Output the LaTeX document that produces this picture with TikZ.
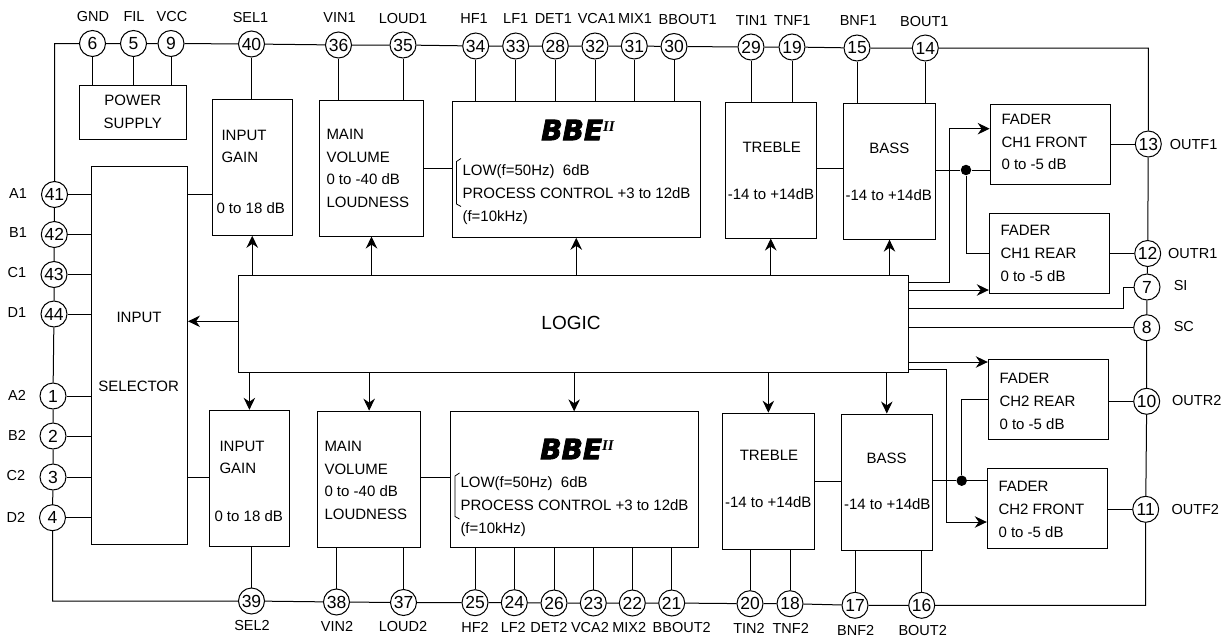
\documentclass[tikz,border=0pt]{standalone}
\usepackage{fontspec}
\setmainfont{Liberation Sans}
\newfontfamily\bbefont[BoldItalicFeatures={FakeBold=3}]{DejaVu Sans}
\newfontfamily\bbeiifont{Liberation Serif}
\usetikzlibrary{arrows.meta}
\newcommand{\bbelogo}{{\bbefont\bfseries\itshape\fontsize{28}{28}\selectfont BBE}\raisebox{9pt}{\bbeiifont\bfseries\itshape\fontsize{15}{15}\selectfont II}}
\tikzset{
  pinc/.style={draw, circle, fill=white, minimum size=26pt, inner sep=0pt, font=\fontsize{17.5}{17.5}\selectfont},
  lab/.style={inner sep=0pt, font=\fontsize{14.5}{15}\selectfont},
  blktxt/.style={inner sep=0pt, anchor=west, align=left, font=\fontsize{15}{22.8}\selectfont},
  ctrtxt/.style={inner sep=0pt, font=\fontsize{15}{22.8}\selectfont},
  blk/.style={draw, rectangle, inner sep=0pt, minimum height=136pt},
  gainbox/.style={blk, minimum width=80pt},
  volbox/.style={blk, minimum width=103.5pt},
  bbebox/.style={blk, minimum width=248pt},
  tonebox/.style={blk, minimum width=91.5pt},
  faderbox/.style={blk, minimum width=120pt, minimum height=80pt},
  jdot/.style={circle, fill=black, minimum size=10.5pt, inner sep=0pt},
}
\begin{document}
\begin{tikzpicture}[x=1pt, y=-1pt, line width=1pt, >={Stealth[length=12pt,width=11.5pt]}]
  \useasboundingbox (0,0) rectangle (1229,637);
  % blocks
  \node[blk, minimum width=107.5pt, minimum height=54pt, align=center, font=\fontsize{15}{22.8}\selectfont] (power) at (132.75,112) {POWER\\SUPPLY};
  \node[blk, minimum width=96pt, minimum height=378pt] (sel) at (139.5,355.4) {};
  \node[blk, minimum width=670pt, minimum height=97.3pt] (logic) at (573.6,323.65) {};
  \node[gainbox] (gain1) at (252.25,167.25) {};
  \node[volbox] (vol1) at (371.5,168) {};
  \node[bbebox] (bbe1) at (576.25,169.25) {};
  \node[tonebox] (tre1) at (770.75,170) {};
  \node[tonebox] (bass1) at (889.5,171.15) {};
  \node[faderbox] (ff1) at (1050.15,144.25) {};
  \node[faderbox] (fr1) at (1049.3,253.25) {};
  \node[gainbox] (gain2) at (249.4,478.3) {};
  \node[volbox] (vol2) at (369.15,479.15) {};
  \node[bbebox] (bbe2) at (574.15,479.85) {};
  \node[tonebox] (tre2) at (768.35,481.2) {};
  \node[tonebox] (bass2) at (886.8,482) {};
  \node[faderbox] (fr2) at (1048.3,399.5) {};
  \node[faderbox] (ff2) at (1047.3,508.7) {};
  % texts of the blocks
  \node[font=\fontsize{19}{19}\selectfont, inner sep=0pt] (logict) at (571,323) {LOGIC};
  \node[ctrtxt] (selt1) at (139,317) {INPUT};
  \node[ctrtxt] (selt2) at (138.7,386) {SELECTOR};
  \node[blktxt] (gain1t) at (221,146.5) {INPUT\\GAIN};
  \node[blktxt] (gain1d) at (216,208) {0 to 18 dB};
  \node[blktxt] (vol1t) at (326,168.5) {MAIN\\VOLUME\\0 to -40 dB\\LOUDNESS};
  \node[inner sep=0pt] (logo1) at (578,130) {\bbelogo};
  \node[blktxt] (bbe1t) at (462,194.5) {LOW(f=50Hz)\ \ 6dB\\PROCESS CONTROL +3 to 12dB\\(f=10kHz)};
  \draw[line width=0.8pt] (461,158.5) -- (456.5,161.5) -- (456.5,204) -- (461,206.5);
  \node[ctrtxt] (tre1t) at (771.7,147.5) {TREBLE};
  \node[ctrtxt] (tre1d) at (771,194) {-14 to +14dB};
  \node[ctrtxt] (bass1t) at (889.3,148.5) {BASS};
  \node[ctrtxt] (bass1d) at (888.7,195) {-14 to +14dB};
  \node[blktxt] (ff1t) at (1001,142) {FADER\\CH1 FRONT\\0 to -5 dB};
  \node[blktxt] (fr1t) at (1000,253.5) {FADER\\CH1 REAR\\0 to -5 dB};
  \node[blktxt] (gain2t) at (219,457.5) {INPUT\\GAIN};
  \node[blktxt] (gain2d) at (214,516) {0 to 18 dB};
  \node[blktxt] (vol2t) at (324,480.5) {MAIN\\VOLUME\\0 to -40 dB\\LOUDNESS};
  \node[inner sep=0pt] (logo2) at (577,449) {\bbelogo};
  \node[blktxt] (bbe2t) at (460,506.7) {LOW(f=50Hz)\ \ 6dB\\PROCESS CONTROL +3 to 12dB\\(f=10kHz)};
  \draw[line width=0.8pt] (459.5,473) -- (455,476) -- (455,516.5) -- (459.5,519);
  \node[ctrtxt] (tre2t) at (769,455.7) {TREBLE};
  \node[ctrtxt] (tre2d) at (768.3,502) {-14 to +14dB};
  \node[ctrtxt] (bass2t) at (886.7,458) {BASS};
  \node[ctrtxt] (bass2d) at (887.3,503.7) {-14 to +14dB};
  \node[blktxt] (fr2t) at (999,401.3) {FADER\\CH2 REAR\\0 to -5 dB};
  \node[blktxt] (ff2t) at (998,509.3) {FADER\\CH2 FRONT\\0 to -5 dB};
  % top pins
  \node[pinc] (n6) at (92.5,43.5) {6};      \node[lab] (gnd) at (93,16.5) {GND};
  \node[pinc] (n5) at (133.5,43.5) {5};     \node[lab] (fil) at (134,16.5) {FIL};
  \node[pinc] (n9) at (171,43.5) {9};       \node[lab] (vcc) at (172,16.5) {VCC};
  \node[pinc] (n40) at (251.5,44) {40};     \node[lab] (sel1) at (250.5,17.5) {SEL1};
  \node[pinc] (n36) at (338.5,45) {36};     \node[lab] (vin1) at (339.5,18) {VIN1};
  \node[pinc] (n35) at (403,45) {35};       \node[lab] (loud1) at (403,18.5) {LOUD1};
  \node[pinc] (n34) at (475.7,46) {34};     \node[lab] (hf1) at (474,19) {HF1};
  \node[pinc] (n33) at (515.7,46) {33};     \node[lab] (lf1) at (515.7,19) {LF1};
  \node[pinc] (n28) at (555.3,46) {28};     \node[lab] (det1) at (553.3,19) {DET1};
  \node[pinc] (n32) at (595,46) {32};       \node[lab] (vca1) at (596.7,19) {VCA1};
  \node[pinc] (n31) at (634.3,46) {31};     \node[lab] (mix1) at (635,19) {MIX1};
  \node[pinc] (n30) at (674,46.5) {30};     \node[lab] (bbout1) at (687.7,20) {BBOUT1};
  \node[pinc] (n29) at (751,47) {29};       \node[lab] (tin1) at (751.7,20.5) {TIN1};
  \node[pinc] (n19) at (792,47) {19};       \node[lab] (tnf1) at (792.3,20.5) {TNF1};
  \node[pinc] (n15) at (857,48) {15};       \node[lab] (bnf1) at (858.3,21) {BNF1};
  \node[pinc] (n14) at (925.3,48) {14};     \node[lab] (bout1) at (924.3,21.5) {BOUT1};
  % right pins
  \node[pinc] (n13) at (1148.3,144) {13};   \node[lab, anchor=west] (outf1) at (1169.3,145) {OUTF1};
  \node[pinc] (n12) at (1147.7,253.5) {12}; \node[lab, anchor=west] (outr1) at (1167.7,254) {OUTR1};
  \node[pinc] (n7) at (1147,287) {7};       \node[lab, anchor=west] (si) at (1173.3,286) {SI};
  \node[pinc] (n8) at (1146.7,327.7) {8};   \node[lab, anchor=west] (sc) at (1173.3,327) {SC};
  \node[pinc] (n10) at (1146.7,401.3) {10}; \node[lab, anchor=west] (outr2) at (1171.7,401) {OUTR2};
  \node[pinc] (n11) at (1145.7,509.3) {11}; \node[lab, anchor=west] (outf2) at (1171,510) {OUTF2};
  % left pins
  \node[pinc] (n41) at (54.5,194.5) {41};   \node[lab] (a1) at (18,193.5) {A1};
  \node[pinc] (n42) at (54.3,234.5) {42};   \node[lab] (b1) at (18,233) {B1};
  \node[pinc] (n43) at (54,274.5) {43};     \node[lab] (c1) at (17,272.5) {C1};
  \node[pinc] (n44) at (54,314) {44};       \node[lab] (d1) at (17,313) {D1};
  \node[pinc] (n1) at (53,396) {1};         \node[lab] (a2) at (17,395) {A2};
  \node[pinc] (n2) at (53,436) {2};         \node[lab] (b2) at (17,435) {B2};
  \node[pinc] (n3) at (53,477) {3};         \node[lab] (c2) at (16,476) {C2};
  \node[pinc] (n4) at (52.5,517.7) {4};     \node[lab] (d2) at (16,517) {D2};
  % bottom pins
  \node[pinc] (n39) at (251.5,601) {39};    \node[lab] (sel2) at (252,626) {SEL2};
  \node[pinc] (n38) at (336.5,602) {38};    \node[lab] (vin2) at (337,626.5) {VIN2};
  \node[pinc] (n37) at (403.5,602.5) {37};  \node[lab] (loud2) at (403,627) {LOUD2};
  \node[pinc] (n25) at (475,602.7) {25};    \node[lab] (hf2) at (475,627.7) {HF2};
  \node[pinc] (n24) at (514.3,602.7) {24};  \node[lab] (lf2) at (513.3,627.7) {LF2};
  \node[pinc] (n26) at (554,603) {26};      \node[lab] (det2) at (549,627.7) {DET2};
  \node[pinc] (n23) at (593.3,603) {23};    \node[lab] (vca2) at (590,627.7) {VCA2};
  \node[pinc] (n22) at (632.3,603) {22};    \node[lab] (mix2) at (629.3,627.7) {MIX2};
  \node[pinc] (n21) at (671.7,603) {21};    \node[lab] (bbout2) at (681.7,628) {BBOUT2};
  \node[pinc] (n20) at (750,603.7) {20};    \node[lab] (tin2) at (749,628.5) {TIN2};
  \node[pinc] (n18) at (790,603.7) {18};    \node[lab] (tnf2) at (790.7,628.5) {TNF2};
  \node[pinc] (n17) at (855,605.3) {17};    \node[lab] (bnf2) at (855.7,630.5) {BNF2};
  \node[pinc] (n16) at (921.7,605.3) {16};  \node[lab] (bout2) at (922.7,630.5) {BOUT2};
  % ring of pins
  \draw (n41) |- (n6) -- (n5) -- (n9) -- (n40) -- (n36) -- (n35) -- (n34) -- (n33) -- (n28) -- (n32) -- (n31) -- (n30) -- (n29) -- (n19) -- (n15) -- (n14) -| (n13);
  \draw (n13) -- (n12) -- (n7) -- (n8) -- (n10) -- (n11);
  \draw (n11) |- (n16) -- (n17) -- (n18) -- (n20) -- (n21) -- (n22) -- (n23) -- (n26) -- (n24) -- (n25) -- (n37) -- (n38) -- (n39) -| (n4);
  \draw (n4) -- (n3) -- (n2) -- (n1) -- (n44) -- (n43) -- (n42) -- (n41);
  % pins to blocks, top
  \draw (n6) -- (n6 |- power.north);
  \draw (n5) -- (n5 |- power.north);
  \draw (n9) -- (n9 |- power.north);
  \draw (n40) -- (n40 |- gain1.north);
  \draw (n36) -- (n36 |- vol1.north);
  \draw (n35) -- (n35 |- vol1.north);
  \draw (n34) -- (n34 |- bbe1.north);
  \draw (n33) -- (n33 |- bbe1.north);
  \draw (n28) -- (n28 |- bbe1.north);
  \draw (n32) -- (n32 |- bbe1.north);
  \draw (n31) -- (n31 |- bbe1.north);
  \draw (n30) -- (n30 |- bbe1.north);
  \draw (n29) -- (n29 |- tre1.north);
  \draw (n19) -- (n19 |- tre1.north);
  \draw (n15) -- (n15 |- bass1.north);
  \draw (n14) -- (n14 |- bass1.north);
  % pins to blocks, bottom
  \draw (n39) -- (n39 |- gain2.south);
  \draw (n38) -- (n38 |- vol2.south);
  \draw (n37) -- (n37 |- vol2.south);
  \draw (n25) -- (n25 |- bbe2.south);
  \draw (n24) -- (n24 |- bbe2.south);
  \draw (n26) -- (n26 |- bbe2.south);
  \draw (n23) -- (n23 |- bbe2.south);
  \draw (n22) -- (n22 |- bbe2.south);
  \draw (n21) -- (n21 |- bbe2.south);
  \draw (n20) -- (n20 |- tre2.south);
  \draw (n18) -- (n18 |- tre2.south);
  \draw (n17) -- (n17 |- bass2.south);
  \draw (n16) -- (n16 |- bass2.south);
  % pins to selector
  \draw (n41) -- (n41 -| sel.west);
  \draw (n42) -- (n42 -| sel.west);
  \draw (n43) -- (n43 -| sel.west);
  \draw (n44) -- (n44 -| sel.west);
  \draw (n1) -- (n1 -| sel.west);
  \draw (n2) -- (n2 -| sel.west);
  \draw (n3) -- (n3 -| sel.west);
  \draw (n4) -- (n4 -| sel.west);
  % signal path
  \draw (sel.east |- n41) -- (gain1.west |- n41);
  \draw (sel.east |- n3) -- (gain2.west |- n3);
  \draw (vol1.east) -- (vol1.east -| bbe1.west);
  \draw ([yshift=2pt]vol2.east) -- ([yshift=2pt]vol2.east -| bbe2.west);
  \draw ([yshift=2pt]tre1.east) -- ([yshift=2pt]tre1.east -| bass1.west);
  \draw (tre2.east) -- (tre2.east -| bass2.west);
  \node[jdot] (dot1) at (966,170) {};
  \node[jdot] (dot2) at (961.7,480.7) {};
  \draw (dot1 -| bass1.east) -- (dot1) -- (dot1 -| ff1.west);
  \draw (dot1) |- (fr1.west);
  \draw (dot2 -| bass2.east) -- (dot2) -- (dot2 -| ff2.west);
  \draw (dot2) |- (fr2.west);
  \draw (ff1.east |- n13) -- (n13);
  \draw (fr1.east |- n12) -- (n12);
  \draw (fr2.east |- n10) -- (n10);
  \draw (ff2.east |- n11) -- (n11);
  % control from logic
  \draw[->] (gain1.south |- logic.north) -- (gain1.south);
  \draw[->] (vol1.south |- logic.north) -- (vol1.south);
  \draw[->] (bbe1.south |- logic.north) -- (bbe1.south);
  \draw[->] (tre1.south |- logic.north) -- (tre1.south);
  \draw[->] (bass1.south |- logic.north) -- (bass1.south);
  \draw[->] (gain2.north |- logic.south) -- (gain2.north);
  \draw[->] (vol2.north |- logic.south) -- (vol2.north);
  \draw[->] (bbe2.north |- logic.south) -- (bbe2.north);
  \draw[->] (tre2.north |- logic.south) -- (tre2.north);
  \draw[->] (bass2.north |- logic.south) -- (bass2.north);
  \coordinate (lsel) at (238.6,321.3);
  \draw[->] (lsel) -- (lsel -| sel.east);
  % logic to faders and SI, SC
  \coordinate (lo1) at (908.7,282);
  \coordinate (up1) at (949.3,128.7);
  \draw[->] (lo1) -| (up1) -- (up1 -| ff1.west);
  \coordinate (lo2) at (908.7,290);
  \draw[->] (lo2) -- (lo2 -| fr1.west);
  \coordinate (lo3) at (908.7,308);
  \coordinate (bk7) at (1123.3,287);
  \draw (lo3) -| (bk7) -- (n7);
  \draw (n8 -| logic.east) -- (n8);
  \coordinate (lo4) at (908.7,362);
  \draw[->] (lo4) -- (lo4 -| fr2.west);
  \coordinate (lo5) at (908.7,369.7);
  \coordinate (dn1) at (946.7,522);
  \draw[->] (lo5) -| (dn1) -- (dn1 -| ff2.west);
\end{tikzpicture}
\end{document}
